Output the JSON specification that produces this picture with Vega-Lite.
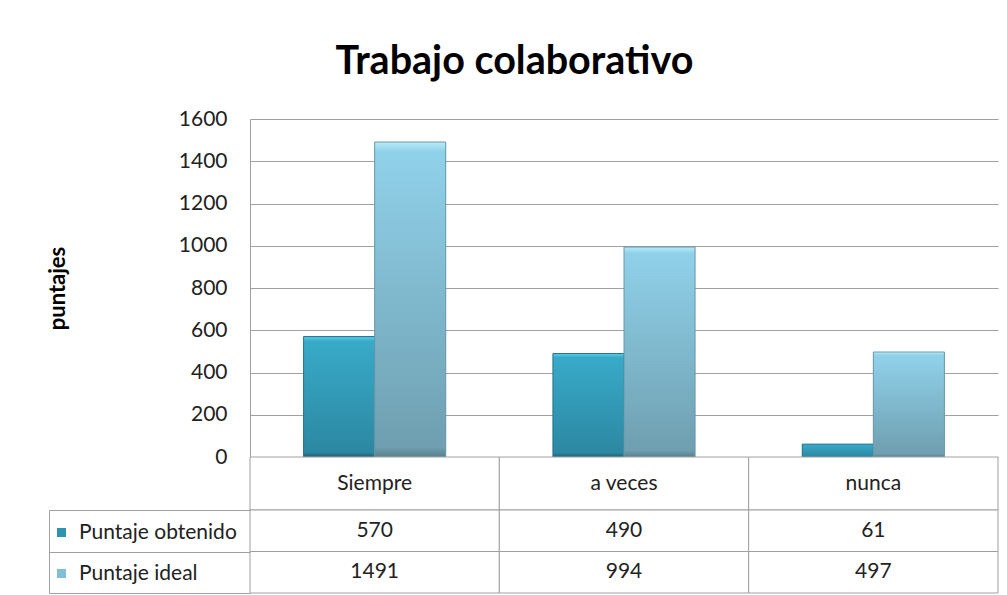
{
  "$schema": "https://vega.github.io/schema/vega-lite/v6.json",
  "padding": {"left": 46, "top": 41, "right": 8, "bottom": 0},
  "background": "white",
  "title": {"text": "Trabajo colaborativo", "font": "Lato", "fontSize": 39.5, "fontWeight": "bold", "color": "#000000", "anchor": "middle", "offset": 26, "dx": -8},
  "config": {"font": "Lato", "view": {"stroke": null}},
  "data": {"values": [
    {"categoria": "Siempre", "serie": "Puntaje obtenido", "puntaje": 570},
    {"categoria": "Siempre", "serie": "Puntaje ideal", "puntaje": 1491},
    {"categoria": "a veces", "serie": "Puntaje obtenido", "puntaje": 490},
    {"categoria": "a veces", "serie": "Puntaje ideal", "puntaje": 994},
    {"categoria": "nunca", "serie": "Puntaje obtenido", "puntaje": 61},
    {"categoria": "nunca", "serie": "Puntaje ideal", "puntaje": 497}
  ]},
  "spacing": 0,
  "bounds": "flush",
  "resolve": {"scale": {"x": "independent", "y": "independent"}},
  "vconcat": [
    {
      "width": 748,
      "height": 338,
      "encoding": {
        "x": {"field": "categoria", "type": "nominal", "sort": ["Siempre", "a veces", "nunca"], "scale": {"paddingInner": 0.43, "paddingOuter": 0.215}, "axis": null},
        "xOffset": {"field": "serie", "type": "nominal", "sort": ["Puntaje obtenido", "Puntaje ideal"], "scale": {"paddingInner": 0, "paddingOuter": 0}},
        "y": {"field": "puntaje", "type": "quantitative", "scale": {"domain": [0, 1600], "nice": false},
          "axis": {"values": [0, 200, 400, 600, 800, 1000, 1200, 1400, 1600], "format": "d", "title": "puntajes", "titleFont": "Lato", "titleFontSize": 22, "titleFontWeight": "bold", "titleColor": "#000000", "titlePadding": 109,
            "labelFont": "Lato", "labelFontSize": 21, "labelColor": "#222222", "labelPadding": 23, "ticks": false, "domain": true, "domainColor": "#a0a0a0", "grid": true, "gridColor": "#a0a0a0", "gridOpacity": 1}}
      },
      "layer": [
        {
          "mark": {"type": "bar"},
          "encoding": {
            "color": {"field": "serie", "type": "nominal", "sort": ["Puntaje obtenido", "Puntaje ideal"],
              "scale": {"domain": ["Puntaje obtenido", "Puntaje ideal"], "range": ["#2f93b0", "#80bfd6"]},
              "legend": {"orient": "none", "legendX": -199, "legendY": 403, "title": null, "direction": "vertical", "padding": 0, "symbolType": "square", "symbolSize": 81, "symbolStrokeWidth": 0, "labelFont": "Lato", "labelFontSize": 21, "labelColor": "#222222", "labelOffset": 7, "rowPadding": 19}}
          }
        },
        {
          "mark": {"type": "bar", "strokeWidth": 1},
          "encoding": {
            "fill": {
              "condition": {"test": "datum.serie === 'Puntaje obtenido'", "value": {"gradient": "linear", "x1": 0, "y1": 0, "x2": 0, "y2": 1, "stops": [{"offset": 0, "color": "#5ccde8"}, {"offset": 0.04, "color": "#38aac9"}, {"offset": 0.96, "color": "#2c88a2"}, {"offset": 1, "color": "#215f70"}]}},
              "value": {"gradient": "linear", "x1": 0, "y1": 0, "x2": 0, "y2": 1, "stops": [{"offset": 0, "color": "#b8ecf8"}, {"offset": 0.03, "color": "#90d1ea"}, {"offset": 0.97, "color": "#6f9fb0"}, {"offset": 1, "color": "#587f8c"}]}
            },
            "stroke": {"condition": {"test": "datum.serie === 'Puntaje obtenido'", "value": "#24758b"}, "value": "#6a98a8"}
          }
        }
      ]
    },
    {
      "width": 748,
      "height": 53,
      "transform": [{"filter": "datum.serie === 'Puntaje obtenido'"}],
      "encoding": {
        "x": {"field": "categoria", "type": "nominal", "sort": ["Siempre", "a veces", "nunca"], "scale": {"paddingInner": 0, "paddingOuter": 0}, "axis": null}
      },
      "layer": [
        {"mark": {"type": "rect", "fill": "white", "stroke": "#a0a0a0", "strokeWidth": 1}},
        {"mark": {"type": "text", "font": "Lato", "fontSize": 21, "color": "#222222", "baseline": "middle"}, "encoding": {"text": {"field": "categoria", "type": "nominal"}}}
      ]
    },
    {
      "width": 748,
      "height": 83,
      "encoding": {
        "x": {"field": "categoria", "type": "nominal", "sort": ["Siempre", "a veces", "nunca"], "scale": {"paddingInner": 0, "paddingOuter": 0}, "axis": null},
        "y": {"field": "serie", "type": "nominal", "sort": ["Puntaje obtenido", "Puntaje ideal"], "scale": {"paddingInner": 0, "paddingOuter": 0},
          "axis": {"offset": 201, "domain": true, "domainColor": "#a0a0a0", "ticks": true, "tickSize": -201, "tickBand": "extent", "tickColor": "#a0a0a0", "labels": false, "title": null, "grid": false}}
      },
      "layer": [
        {"mark": {"type": "rect", "fill": "white", "stroke": "#a0a0a0", "strokeWidth": 1}},
        {"mark": {"type": "text", "font": "Lato", "fontSize": 21, "color": "#222222", "baseline": "middle"}, "encoding": {"text": {"field": "puntaje", "type": "quantitative", "format": "d"}}}
      ]
    }
  ]
}
